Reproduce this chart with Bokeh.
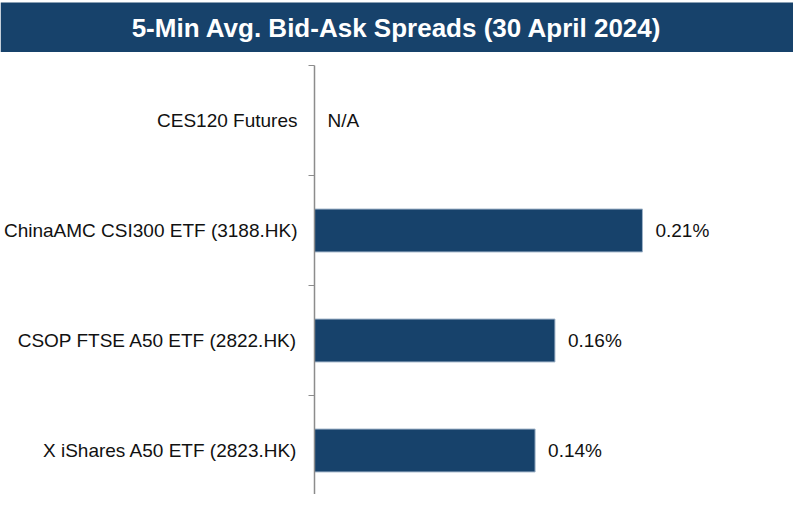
import math
from bokeh.plotting import figure
from bokeh.layouts import column
from bokeh.models import FixedTicker, ColumnDataSource, Range1d
from bokeh.core.properties import value
from bokeh.embed import file_html
from bokeh.resources import INLINE

title_text = "5-Min Avg. Bid-Ask Spreads (30 April 2024)"
categories = ["X iShares A50 ETF (2823.HK)", "CSOP FTSE A50 ETF (2822.HK)",
              "ChinaAMC CSI300 ETF (3188.HK)", "CES120 Futures"]
spreads = [0.1432, 0.1561, 0.2129, float("nan")]

NAVY = "#17426b"
FONT = "Liberation Sans"

pos = list(range(len(categories)))
labels = ["N/A" if math.isnan(v) else f"{v:.2f}%" for v in spreads]
bar_vals = [0 if math.isnan(v) else v for v in spreads]
label_x = [0 if math.isnan(v) else v for v in spreads]

# banner
b = figure(width=793, height=52, output_backend="svg", toolbar_location=None,
           x_range=Range1d(0, 1), y_range=Range1d(0, 52),
           x_axis_location=None, y_axis_location=None,
           min_border=0, outline_line_color=None)
b.frame_align = False
b.grid.visible = False
b.quad(left=[0], right=[1], bottom=[0], top=[50], fill_color=NAVY, line_color=None)
b.text(x=[0.5], y=[25], text=[title_text], text_color="white",
       text_font=value(FONT), text_font_style="bold", text_font_size="26px",
       text_align="center", text_baseline="middle")

src = ColumnDataSource(dict(y=pos, v=bar_vals, lx=label_x, lab=labels))

frame_w = 482
p = figure(width=793, height=442, output_backend="svg", toolbar_location=None,
           x_range=Range1d(0, frame_w / 1550), y_range=Range1d(-0.4, 3.5),
           x_axis_location=None, min_border_left=311, min_border_right=0,
           min_border_top=13, min_border_bottom=0, outline_line_color=None)
p.frame_align = False
p.grid.visible = False
p.hbar(y="y", left=0, right="v", height=0.39, source=src,
       fill_color=NAVY, line_color="#9fb3c8", line_width=1)
p.text(x="lx", y="y", text="lab", source=src, x_offset=13,
       text_font=value(FONT), text_font_size="19px", text_color="#111111",
       text_baseline="middle", text_align="left")

ax = p.yaxis[0]
ax.ticker = FixedTicker(ticks=pos, minor_ticks=[0.5, 1.5, 2.5, 3.5])
ax.major_label_overrides = {i: c for i, c in zip(pos, categories)}
ax.major_tick_line_color = None
ax.major_tick_out = 0
ax.major_tick_in = 0
ax.minor_tick_out = 6
ax.minor_tick_in = 0
ax.minor_tick_line_color = "#8c8c8c"
ax.axis_line_color = "#8c8c8c"
ax.axis_line_width = 1.5
ax.major_label_standoff = 11
ax.major_label_text_font = FONT
ax.major_label_text_font_size = "19px"
ax.major_label_text_color = "#111111"

layout = column(b, p, spacing=0)
open("out.html", "w").write(file_html(layout, INLINE))
